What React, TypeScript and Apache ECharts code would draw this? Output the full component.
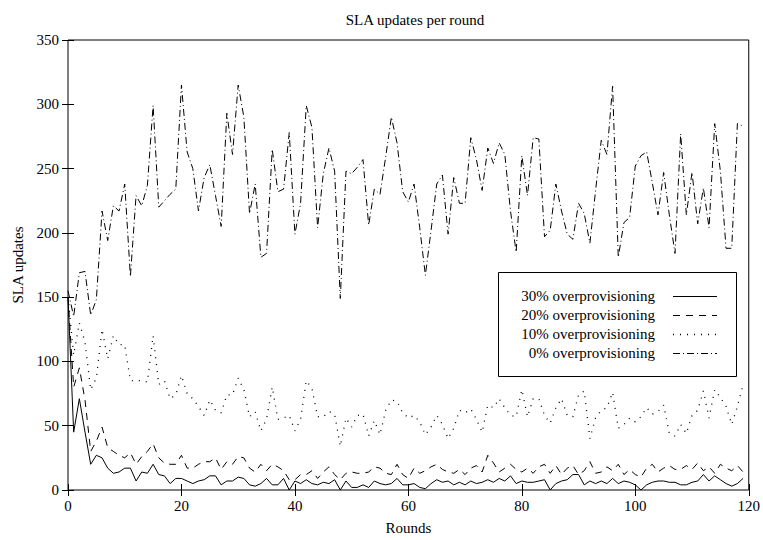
import React, { useEffect, useRef } from "react";
import * as echarts from "echarts";

const title = "SLA updates per round";
const xName = "Rounds";
const yName = "SLA updates";
const seriesNames = [
  "30% overprovisioning",
  "20% overprovisioning",
  "10% overprovisioning",
  "0% overprovisioning",
];

const over30 = [
  150, 45, 71, 45, 20, 27, 25, 17, 13, 14, 17, 17, 7, 14, 13, 20, 12, 11, 5, 9,
  9, 7, 5, 7, 8, 11, 11, 4, 7, 7, 10, 9, 4, 3, 5, 9, 4, 4, 9, 0,
  7, 5, 8, 5, 4, 6, 5, 8, 0, 7, 2, 2, 4, 2, 7, 5, 4, 5, 9, 4,
  4, 5, 2, 1, 5, 8, 6, 7, 4, 6, 4, 7, 5, 6, 8, 6, 9, 7, 11, 5,
  7, 6, 6, 7, 8, 0, 5, 7, 8, 12, 12, 4, 7, 5, 7, 5, 9, 5, 7, 6,
  4, 0, 4, 6, 7, 7, 6, 6, 4, 4, 6, 7, 12, 7, 11, 8, 5, 3, 5, 9,
];

const over20 = [
  150, 80, 95, 70, 30, 38, 49, 33, 30, 27, 25, 29, 20, 26, 30, 36, 25, 21, 20, 20,
  27, 17, 17, 20, 22, 22, 25, 16, 22, 20, 26, 25, 17, 14, 20, 15, 20, 18, 15, 8,
  8, 12, 12, 15, 9, 14, 18, 12, 8, 13, 14, 13, 13, 14, 18, 17, 13, 12, 20, 12,
  9, 17, 13, 15, 18, 20, 16, 14, 13, 16, 12, 17, 19, 14, 27, 21, 14, 17, 20, 16,
  14, 17, 13, 18, 20, 13, 19, 12, 17, 19, 12, 15, 22, 13, 14, 18, 15, 20, 12, 16,
  12, 10, 17, 20, 14, 17, 19, 16, 16, 19, 16, 21, 15, 18, 13, 20, 17, 15, 19, 14,
];

const over10 = [
  150, 105, 130, 115, 78, 87, 125, 102, 120, 113, 113, 85, 85, 85, 84, 120, 82, 85, 71, 74,
  89, 75, 71, 65, 58, 70, 62, 60, 74, 74, 87, 78, 57, 61, 46, 55, 80, 55, 56, 58,
  46, 55, 85, 79, 57, 57, 61, 59, 34, 56, 49, 58, 59, 42, 54, 43, 62, 70, 69, 60,
  56, 58, 53, 43, 49, 58, 51, 40, 48, 62, 60, 63, 55, 45, 66, 64, 71, 64, 58, 57,
  78, 57, 71, 71, 58, 52, 64, 71, 58, 57, 74, 77, 40, 56, 62, 64, 76, 48, 51, 56,
  53, 57, 64, 59, 61, 66, 44, 42, 51, 44, 58, 62, 77, 56, 78, 72, 65, 51, 65, 82,
];

const over0 = [
  155, 135, 169, 170, 136, 148, 217, 194, 221, 217, 238, 166, 229, 221, 237, 299, 220, 225, 230, 234,
  315, 263, 250, 217, 243, 253, 229, 205, 293, 261, 315, 290, 215, 238, 181, 184, 265, 232, 234, 278,
  199, 223, 299, 282, 204, 246, 266, 248, 149, 248, 246, 251, 257, 206, 234, 230, 259, 290, 270, 232,
  224, 238, 204, 167, 202, 238, 245, 199, 243, 223, 223, 274, 257, 233, 266, 254, 270, 261, 217, 185,
  260, 229, 274, 273, 197, 202, 238, 217, 199, 195, 223, 215, 192, 233, 272, 261, 314, 181, 208, 212,
  252, 260, 263, 239, 214, 247, 214, 184, 277, 214, 247, 207, 235, 204, 285, 248, 188, 188, 285, 283,
];

const xTicks = [0, 20, 40, 60, 80, 100, 120];
const yTicks = [0, 50, 100, 150, 200, 250, 300, 350];

const FONT = '"Liberation Serif", "DejaVu Serif", serif';
const FS = 15;

export default function App() {
  const ref = useRef<HTMLDivElement>(null);
  useEffect(() => {
    const chart = echarts.init(ref.current!, null, { renderer: "svg" });
    const allSeries = [over30, over20, over10, over0];
    const dashes: any[] = ["solid", [7, 6], [1, 6], [7, 3, 1, 3]];
    const widths = [1, 1, 1.3, 1];
    const toPairs = (arr: number[]) => arr.map((v, i) => [i, v]);

    const legendX1 = 673;
    const legendX2 = 717;
    const legendYs = [296, 315, 334, 353];
    const legendGraphics: any[] = [
      {
        type: "rect",
        shape: { x: 498.5, y: 272.5, width: 238, height: 104 },
        style: { fill: "#fff", stroke: "#000", lineWidth: 1 },
        z: 100,
      },
    ];
    seriesNames.forEach((name, i) => {
      legendGraphics.push({
        type: "text",
        x: 655,
        y: legendYs[i],
        style: {
          text: name,
          font: `${FS}px ${FONT}`,
          fill: "#000",
          align: "right",
          verticalAlign: "middle",
        },
        z: 101,
      });
      legendGraphics.push({
        type: "line",
        shape: { x1: legendX1, y1: legendYs[i] + 0.5, x2: legendX2, y2: legendYs[i] + 0.5 },
        style: {
          stroke: "#000",
          lineWidth: widths[i],
          lineDash: dashes[i] === "solid" ? null : dashes[i],
        },
        z: 101,
      });
    });

    const axisCommon = {
      type: "value" as const,
      splitLine: { show: false },
      axisLine: { show: false },
      axisTick: { show: true, inside: true, length: 6, lineStyle: { color: "#000", width: 1 } },
    };

    chart.setOption({
      animation: false,
      backgroundColor: "#fff",
      title: {
        text: title,
        left: 410,
        textAlign: "center",
        top: 7,
        textStyle: { fontFamily: FONT, fontSize: FS, fontWeight: "normal", color: "#000" },
      },
      grid: {
        left: 68,
        right: 11,
        top: 40,
        bottom: 48,
        show: true,
        borderColor: "#000",
        borderWidth: 1,
        backgroundColor: "transparent",
      },
      xAxis: [
        {
          ...axisCommon,
          min: xTicks[0],
          max: xTicks[xTicks.length - 1],
          interval: 20,
          name: xName,
          nameLocation: "middle",
          nameGap: 30,
          nameTextStyle: { fontFamily: FONT, fontSize: FS, color: "#000" },
          axisLabel: { fontFamily: FONT, fontSize: FS, color: "#000", margin: 8 },
        },
        {
          ...axisCommon,
          position: "top",
          min: xTicks[0],
          max: xTicks[xTicks.length - 1],
          interval: 20,
          axisLabel: { show: false },
        },
      ],
      yAxis: [
        {
          ...axisCommon,
          min: yTicks[0],
          max: yTicks[yTicks.length - 1],
          interval: 50,
          name: yName,
          nameLocation: "middle",
          nameGap: 43,
          nameRotate: 90,
          nameTextStyle: { fontFamily: FONT, fontSize: FS, color: "#000" },
          axisLabel: { fontFamily: FONT, fontSize: FS, color: "#000", margin: 9 },
        },
        {
          ...axisCommon,
          position: "right",
          min: yTicks[0],
          max: yTicks[yTicks.length - 1],
          interval: 50,
          axisLabel: { show: false },
        },
      ],
      series: allSeries.map((arr, i) => ({
        name: seriesNames[i],
        type: "line",
        xAxisIndex: 0,
        yAxisIndex: 0,
        data: toPairs(arr),
        symbol: "none",
        lineStyle: { color: "#000", width: widths[i], type: dashes[i] },
        z: 2 + i,
      })),
      graphic: legendGraphics,
    });
    return () => chart.dispose();
  }, []);
  return (
    <div
      ref={ref}
      style={{ position: "fixed", left: 0, top: 0, width: 763, height: 540, background: "#fff" }}
    />
  );
}
